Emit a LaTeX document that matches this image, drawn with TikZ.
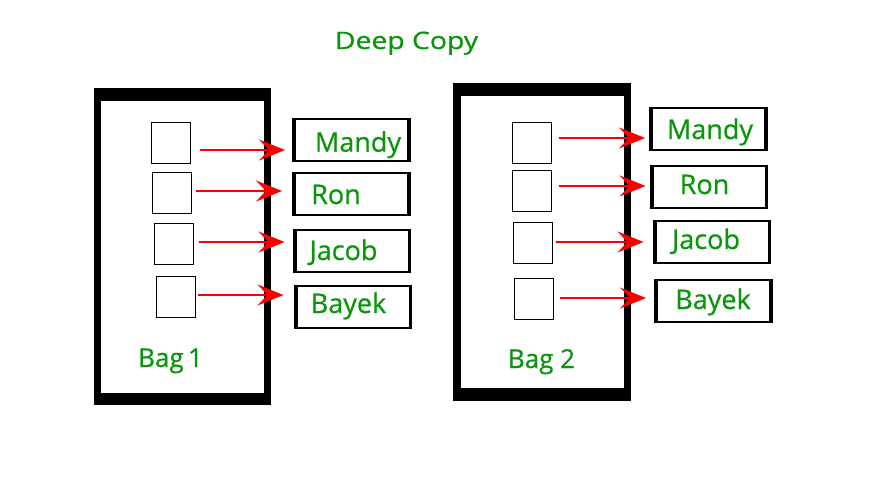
\documentclass[tikz,border=0pt]{standalone}
\usepackage{fontspec}
\setmainfont{Open Sans}
\newfontfamily\gfont[FakeBold=0.6]{Open Sans}
\usetikzlibrary{arrows.meta}
\definecolor{gtext}{RGB}{10,150,10}
\definecolor{rarrow}{RGB}{250,0,0}
\begin{document}
\begin{tikzpicture}[x=1pt,y=-1pt,
  bagout/.style={fill=black,draw=none,inner sep=0pt,minimum width=#1},
  bagin/.style={fill=white,draw=none,inner sep=0pt,minimum width=163pt,minimum height=292pt},
  slot/.style={draw=black,line width=1.2pt,inner sep=0pt,minimum width=39pt,minimum height=41pt},
  namebox/.style={draw=black,line width=2pt,inner sep=0pt,minimum width=113pt,minimum height=42pt},
  edge/.style={line width=3.6pt},
  lbl/.style={text=gtext,anchor=base,inner sep=0pt,font=\gfont\fontsize{27}{30}\selectfont},
  baglbl/.style={text=gtext,anchor=base,inner sep=0pt,font=\gfont\fontsize{26}{29}\selectfont},
  arr/.style={draw=rarrow,line width=2.8pt,-{Stealth[length=26pt,width=21pt,inset=10pt]}}
]
\useasboundingbox (0,0) rectangle (875,484);
\fill[white] (0,0) rectangle (875,484);

% title
\node[text=gtext,anchor=base,inner sep=0pt,font=\gfont\fontsize{24}{28}\selectfont,xscale=1.18] (title) at (406.5,49) {Deep Copy};

% Bag 1
\node[bagout=177pt,minimum height=317pt] (bag1) at (182.5,246.5) {};
\node[bagin] (bag1in) at (182.5,247) {};
\node[slot] (a1) at (171,143) {};
\node[slot] (a2) at (172,193) {};
\node[slot] (a3) at (174,244) {};
\node[slot] (a4) at (176,297) {};
\node[namebox] (m1) at (351.5,140) {};
\node[namebox] (r1) at (351.5,193.5) {};
\node[namebox] (j1) at (352,251) {};
\node[namebox] (y1) at (353,306.5) {};
\node[lbl] (tm1) at (358,151.7) {Mandy};
\node[lbl] (tr1) at (336,204) {Ron};
\node[lbl] (tj1) at (343.5,260) {Jacob};
\node[lbl] (ty1) at (348.5,313) {Bayek};
\node[baglbl] (tb1) at (170.5,367) {Bag\,1};

% Bag 2
\node[bagout=178pt,minimum height=318pt] (bag2) at (542,242) {};
\node[bagin] (bag2in) at (542.5,242) {};
\node[slot] (c1) at (532,143) {};
\node[slot] (c2) at (532,191) {};
\node[slot] (c3) at (533,243) {};
\node[slot] (c4) at (534,299) {};
\node[namebox] (m2) at (708.5,129) {};
\node[namebox] (r2) at (709,186.5) {};
\node[namebox] (j2) at (712,242) {};
\node[namebox] (y2) at (713.5,300.5) {};
\node[lbl] (tm2) at (710,139) {Mandy};
\node[lbl] (tr2) at (704.5,194) {Ron};
\node[lbl] (tj2) at (706,249) {Jacob};
\node[lbl] (ty2) at (713,309) {Bayek};
\node[baglbl] (tb2) at (541.5,368) {Bag 2};

% thick vertical edges of name boxes
\foreach \n in {m1,r1,j1,y1,m2,r2,j2,y2}{
  \draw[edge] (\n.north west) -- (\n.south west);
  \draw[edge,line width=3pt] (\n.north east) -- (\n.south east);
}

% arrows
\draw[arr,shorten >=9pt] ([xshift=9pt,yshift=-7pt]a1.east) coordinate (s1) -- (s1 -| m1.west);
\draw[arr,shorten >=12pt] ([xshift=4pt,yshift=2pt]a2.east) coordinate (s2) -- (s2 -| r1.west);
\draw[arr,shorten >=10pt] ([xshift=5pt,yshift=2pt]a3.east) coordinate (s3) -- (s3 -| j1.west);
\draw[arr,shorten >=12pt] ([xshift=2pt,yshift=2pt]a4.east) coordinate (s4) -- (s4 -| y1.west);
\draw[arr,shorten >=6pt] ([xshift=7pt,yshift=5pt]c1.east) coordinate (u1) -- (u1 -| m2.west);
\draw[arr,shorten >=6pt] ([xshift=7pt,yshift=5pt]c2.east) coordinate (u2) -- (u2 -| r2.west);
\draw[arr,shorten >=11pt] ([xshift=3pt,yshift=1pt]c3.east) coordinate (u3) -- (u3 -| j2.west);
\draw[arr,shorten >=10pt] ([xshift=6pt,yshift=1pt]c4.east) coordinate (u4) -- (u4 -| y2.west);
\end{tikzpicture}
\end{document}
